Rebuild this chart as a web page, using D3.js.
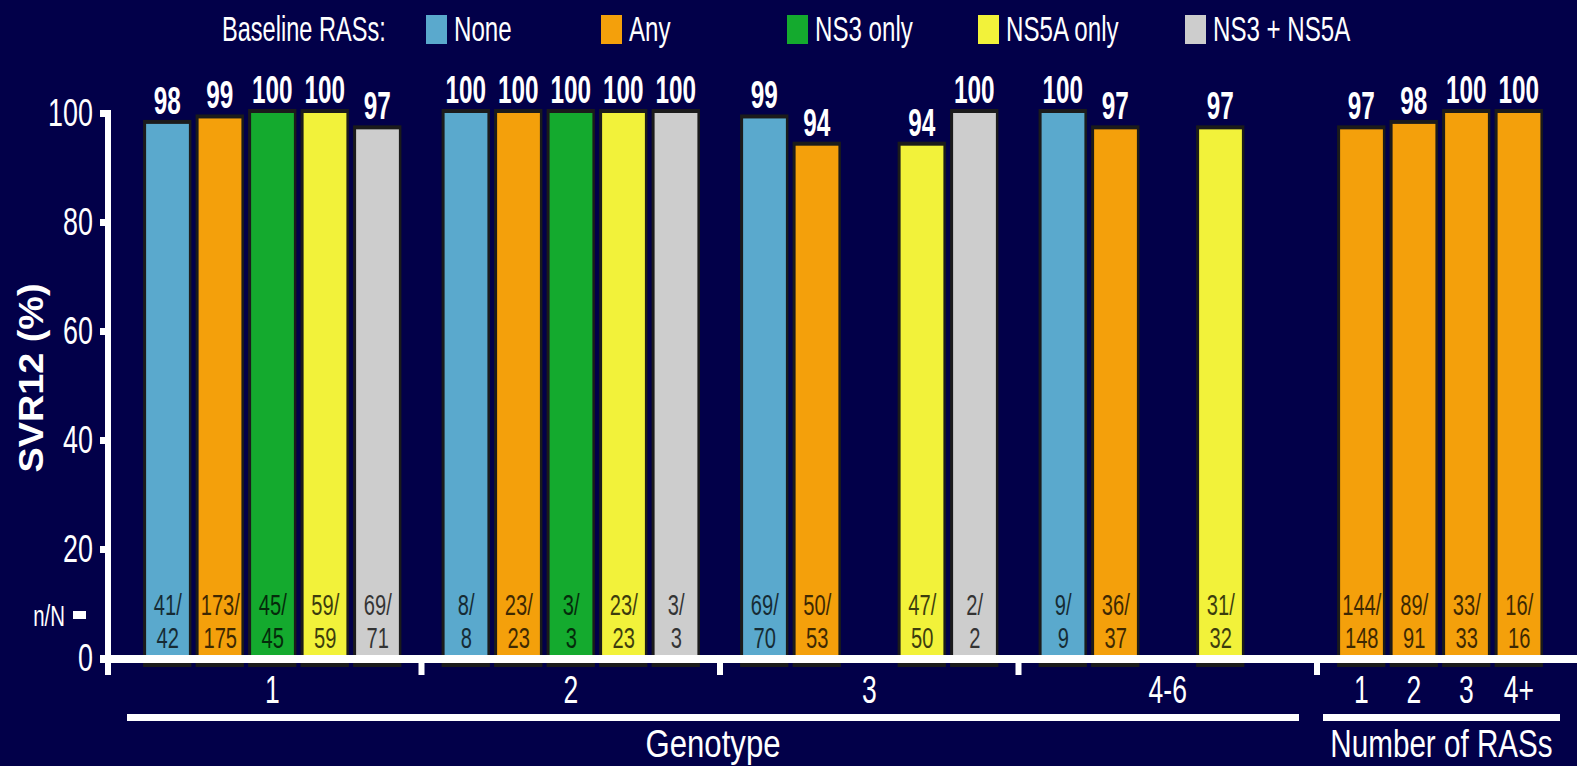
<!DOCTYPE html>
<html>
<head>
<meta charset="utf-8">
<script src="https://cdn.jsdelivr.net/npm/d3@7"></script>
<style>
  html, body { margin: 0; padding: 0; background: #020049; }
  svg { display: block; }
  text { font-family: "Liberation Sans", Arial, sans-serif; }
</style>
</head>
<body>
<svg id="chart" width="1577" height="766"></svg>
<script>
// ---- data -------------------------------------------------------------
const genotypes = ["1", "2", "3", "4-6"];
const rasTypes = ["None", "Any", "NS3 only", "NS5A only", "NS3 + NS5A"];
const rasColors = ["#5aa9cd", "#f4a00b", "#14aa2e", "#f2f23a", "#cdcdcd"];

// SVR12 (%) and n/N per genotype, in rasTypes order (null = not reported)
const svrGt1 = [98, 99, 100, 100, 97];
const nGt1 = [41, 173, 45, 59, 69];
const totGt1 = [42, 175, 45, 59, 71];

const svrGt2 = [100, 100, 100, 100, 100];
const nGt2 = [8, 23, 3, 23, 3];
const totGt2 = [8, 23, 3, 23, 3];

const svrGt3 = [99, 94, null, 94, 100];
const nGt3 = [69, 50, null, 47, 2];
const totGt3 = [70, 53, null, 50, 2];

const svrGt46 = [100, 97, null, 97, null];
const nGt46 = [9, 36, null, 31, null];
const totGt46 = [9, 37, null, 32, null];

// by number of baseline RASs (all "Any")
const rasCounts = ["1", "2", "3", "4+"];
const svrByCount = [97, 98, 100, 100];
const nByCount = [144, 89, 33, 16];
const totByCount = [148, 91, 33, 16];

const yTicks = [0, 20, 40, 60, 80, 100];

// ---- layout -----------------------------------------------------------
const svg = d3.select("#chart");
const white = "#ffffff";
const outline = "#1b1b1b";

const y = d3.scaleLinear().domain([0, 100]).range([658, 113]);
const axisY = 659;

const groupStep = 298.5, groupGap = 36;
const gPad = groupGap / groupStep;
const xGroup = d3.scaleBand()
  .domain([...genotypes, "count"])
  .range([141, 141 + groupStep * (5 - gPad)])
  .paddingInner(gPad).paddingOuter(0);

const xType = d3.scaleBand().domain(rasTypes)
  .range([0, 262.5]).paddingInner(0.08).paddingOuter(0.04);
const xCount = d3.scaleBand().domain(rasCounts)
  .range([0, 210]).paddingInner(0.08).paddingOuter(0.04);

// condensed text helper
function label(parent, x, yy, str, opt) {
  const o = Object.assign({ size: 38, weight: "normal", anchor: "middle", sx: 0.68, fill: white, rotate: 0 }, opt);
  const t = parent.append("text")
    .attr("transform", `translate(${x},${yy})` + (o.rotate ? ` rotate(${o.rotate})` : "") + ` scale(${o.sx},1)`)
    .attr("text-anchor", o.anchor)
    .attr("fill", o.fill)
    .style("font-size", o.size + "px")
    .style("font-weight", o.weight)
    .text(str);
  if (o.opacity != null) t.attr("opacity", o.opacity);
  return t;
}

// ---- bar records ------------------------------------------------------
const bars = [];
const perGenotype = [
  [svrGt1, nGt1, totGt1], [svrGt2, nGt2, totGt2],
  [svrGt3, nGt3, totGt3], [svrGt46, nGt46, totGt46]
];
genotypes.forEach((g, gi) => {
  const [svr, n, tot] = perGenotype[gi];
  rasTypes.forEach((t, ti) => {
    if (svr[ti] == null) return;
    bars.push({ x: xGroup(g) + xType(t), w: xType.bandwidth(), v: svr[ti], n: n[ti], N: tot[ti], color: rasColors[ti] });
  });
});
rasCounts.forEach((c, ci) => {
  bars.push({ x: xGroup("count") + xCount(c), w: xCount.bandwidth(), v: svrByCount[ci], n: nByCount[ci], N: totByCount[ci], color: rasColors[1] });
});

// ---- bars -------------------------------------------------------------
const gBars = svg.append("g");
gBars.selectAll("rect.edge").data(bars).join("rect")
  .attr("class", "edge")
  .attr("x", d => d.x).attr("width", d => d.w)
  .attr("y", d => y(d.v) - 4)
  .attr("height", d => axisY + 8 - (y(d.v) - 4))
  .attr("fill", outline);
gBars.selectAll("rect.fill").data(bars).join("rect")
  .attr("class", "fill")
  .attr("x", d => d.x + 3).attr("width", d => d.w - 5.5)
  .attr("y", d => y(d.v))
  .attr("height", d => axisY - y(d.v))
  .attr("fill", d => d.color);

// value labels above bars
bars.forEach(d => {
  label(svg, d.x + d.w / 2, y(d.v) - 10, String(d.v), { size: 38, weight: "bold", sx: 0.64 });
});

// n/N labels inside bars
bars.forEach(d => {
  const cx = d.x + d.w / 2 + 0.5;
  label(svg, cx, y(0) - 43, d.n + "/", { size: 30, sx: 0.67, fill: "#000", opacity: 0.75 });
  label(svg, cx, y(0) - 10, String(d.N), { size: 30, sx: 0.67, fill: "#000", opacity: 0.75 });
});

// ---- axes -------------------------------------------------------------
// x axis line
svg.append("rect").attr("x", 100).attr("y", axisY - 4).attr("width", 1477).attr("height", 8).attr("fill", white);
// y axis line (continues below the x axis as the first group divider)
svg.append("rect").attr("x", 105).attr("y", y(100) - 3).attr("width", 6).attr("height", 675 - (y(100) - 3)).attr("fill", white);

const yAxis = d3.axisLeft(y).tickValues(yTicks).tickSize(11).tickPadding(0);
const gy = svg.append("g").attr("transform", "translate(111,0)").call(yAxis);
gy.select(".domain").remove();
gy.selectAll(".tick line").attr("stroke", white).attr("stroke-width", 7);
gy.selectAll(".tick text")
  .attr("x", null).attr("dy", null)
  .attr("transform", "translate(-18,12) scale(0.69,1)")
  .attr("text-anchor", "end")
  .attr("fill", white)
  .style("font-size", "39px")
  .style("font-family", "'Liberation Sans', Arial, sans-serif");

// group dividers below the axis
const dividers = [...genotypes.slice(1), "count"].map(g => xGroup(g) - groupGap / 2);
svg.selectAll("rect.div").data(dividers).join("rect")
  .attr("class", "div")
  .attr("x", d => d - 3).attr("y", axisY + 4).attr("width", 6).attr("height", 12)
  .attr("fill", white);

// category labels
genotypes.forEach(g => {
  label(svg, xGroup(g) + xGroup.bandwidth() / 2, 703, g, { size: 39, sx: 0.68 });
});
rasCounts.forEach(c => {
  label(svg, xGroup("count") + xCount(c) + xCount.bandwidth() / 2, 703, c, { size: 39, sx: 0.68 });
});

// group underlines and titles
const genoStart = xGroup("1") - 14;
const genoEnd = xGroup("4-6") + xGroup.bandwidth();
svg.append("rect").attr("x", genoStart).attr("y", 714).attr("width", genoEnd - genoStart).attr("height", 7).attr("fill", white);
const cntStart = xGroup("count") - 12;
const cntEnd = xGroup("count") + 225;
svg.append("rect").attr("x", cntStart).attr("y", 714).attr("width", cntEnd - cntStart).attr("height", 7).attr("fill", white);

label(svg, (genoStart + genoEnd) / 2, 757, "Genotype", { size: 38, sx: 0.82 });
label(svg, (cntStart + cntEnd) / 2, 757, "Number of RASs", { size: 38, sx: 0.78 });

// y axis title
label(svg, 43, 378, "SVR12 (%)", { size: 35, weight: "bold", sx: 1.08, rotate: -90 });

// n/N row marker
label(svg, 65, 626, "n/N", { size: 30, sx: 0.68, anchor: "end" });
svg.append("rect").attr("x", 73).attr("y", 611).attr("width", 13).attr("height", 8).attr("fill", white);

// ---- legend -----------------------------------------------------------
label(svg, 222, 41, "Baseline RASs:", { size: 36, sx: 0.655, anchor: "start" });
const legendX = [426, 601, 787, 978, 1185];
rasTypes.forEach((t, i) => {
  svg.append("rect").attr("x", legendX[i]).attr("y", 15).attr("width", 21).attr("height", 29).attr("fill", rasColors[i]);
  label(svg, legendX[i] + 28, 41, t, { size: 36, sx: 0.67, anchor: "start" });
});
</script>
</body>
</html>
